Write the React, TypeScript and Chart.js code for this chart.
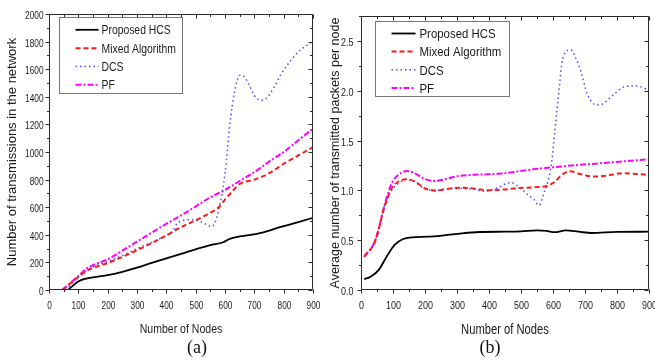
import React, { useEffect, useRef } from 'react';
import { Chart, registerables } from 'chart.js';
Chart.register(...registerables);

// ---------- (a) Number of transmissions ----------
const hcsXa = [65, 100, 150, 200, 250, 300, 350, 400, 450, 500, 550, 594, 616, 651, 719, 787, 850, 900];
const hcsYa = [0, 62, 92, 108, 132, 162, 196, 229, 262, 295, 325, 346, 371, 388, 412, 455, 492, 523];
const mixXa = [45, 100, 125, 150, 200, 250, 300, 350, 400, 450, 500, 550, 575, 600, 625, 650, 700, 750, 800, 850, 900];
const mixYa = [0, 95, 135, 160, 195, 240, 288, 340, 395, 455, 505, 560, 592, 655, 715, 768, 800, 845, 915, 975, 1036];
const dcsXa = [10, 50, 100, 150, 200, 250, 300, 350, 400, 420, 440, 485, 520, 555, 572, 583, 594, 605, 615, 625, 640, 652, 666, 680, 700, 722, 740, 767, 790, 818, 850, 884, 900];
const dcsYa = [0, 0, 100, 168, 205, 250, 300, 345, 395, 420, 490, 510, 492, 460, 528, 625, 746, 940, 1170, 1339, 1508, 1557, 1545, 1497, 1410, 1375, 1388, 1468, 1560, 1646, 1726, 1780, 1804];
const pfXa = [45, 100, 125, 150, 200, 250, 300, 350, 400, 450, 500, 550, 600, 650, 700, 750, 800, 850, 900];
const pfYa = [0, 100, 150, 180, 222, 285, 350, 415, 480, 540, 605, 672, 725, 790, 855, 930, 1000, 1085, 1170];

// ---------- (b) Average transmitted packets per node ----------
const hcsXb = [10, 30, 55, 80, 105, 130, 160, 210, 260, 315, 370, 450, 500, 550, 580, 605, 640, 680, 720, 800, 900];
const hcsYb = [0.11, 0.134, 0.2, 0.334, 0.452, 0.509, 0.529, 0.535, 0.549, 0.569, 0.582, 0.585, 0.588, 0.598, 0.593, 0.58, 0.598, 0.585, 0.572, 0.583, 0.585];
const mixXb = [10, 44, 75, 96, 117, 143, 169, 200, 237, 273, 315, 357, 398, 440, 486, 538, 580, 606, 627, 653, 684, 726, 767, 819, 861, 900];
const mixYb = [0.334, 0.49, 0.85, 1.02, 1.089, 1.111, 1.088, 1.02, 0.997, 1.017, 1.027, 1.017, 1.0, 1.007, 1.021, 1.031, 1.044, 1.087, 1.155, 1.192, 1.165, 1.138, 1.148, 1.172, 1.165, 1.155];
const dcsXb = [10, 44, 75, 96, 117, 143, 169, 200, 237, 273, 315, 357, 380, 430, 450, 471, 492, 518, 540, 556, 571, 588, 596, 606, 617, 627, 643, 656, 669, 688, 707, 736, 755, 788, 825, 861, 900];
const dcsYb = [0.334, 0.49, 0.86, 1.0, 1.07, 1.111, 1.085, 1.013, 1.0, 1.015, 1.02, 1.01, 0.99, 1.03, 1.064, 1.077, 1.037, 0.964, 0.91, 0.85, 0.967, 1.138, 1.288, 1.606, 1.941, 2.259, 2.403, 2.41, 2.342, 2.186, 1.968, 1.857, 1.867, 1.958, 2.041, 2.048, 2.005];
const pfXb = [10, 45, 75, 96, 117, 143, 169, 195, 226, 252, 294, 346, 398, 440, 538, 643, 747, 900];
const pfYb = [0.334, 0.502, 0.87, 1.071, 1.155, 1.195, 1.171, 1.121, 1.094, 1.104, 1.138, 1.155, 1.162, 1.17, 1.211, 1.245, 1.272, 1.312];

const seriesLabels = ['Proposed HCS', 'Mixed Algorithm', 'DCS', 'PF'];
const xTitle = 'Number of Nodes';
const yTitleA = 'Number of transmissions in the network';
const yTitleB = 'Average number of transmitted packets per node';

const SANS = "'Liberation Sans', Arial, sans-serif";

const styles = [
  { color: '#000000', dash: [] as number[], width: 1.8 },
  { color: '#ff1a1a', dash: [5, 3], width: 2 },
  { color: '#4b4bff', dash: [1.5, 3], width: 1.5 },
  { color: '#ff00ff', dash: [6, 2, 2, 2], width: 2 },
];

const pts = (xs: number[], ys: number[]) => xs.map((x, i) => ({ x, y: ys[i] }));

// condensed text (no narrow font installed): draw Liberation Sans squeezed horizontally
function text(ctx: any, s: string, x: number, y: number, size: number, sx: number, align: string) {
  ctx.save();
  ctx.translate(x, y);
  ctx.scale(sx, 1);
  ctx.font = `${size}px ${SANS}`;
  ctx.textAlign = align;
  ctx.textBaseline = 'alphabetic';
  ctx.fillStyle = '#1a1a1a';
  ctx.fillText(s, 0, 0);
  ctx.restore();
}

const frameLegendPlugin = {
  id: 'frameLegend',
  afterDatasetsDraw(chart: any, _args: any, opts: any) {
    const { ctx, chartArea: a } = chart;
    const xs = chart.scales.x;
    const ys = chart.scales.y;
    ctx.save();
    ctx.strokeStyle = '#2a2a2a';
    ctx.lineWidth = 1;
    ctx.setLineDash([]);
    const L = Math.round(a.left) + 0.5;
    const R = Math.round(a.right) - 0.5;
    const T = Math.round(a.top) + 0.5;
    const B = Math.round(a.bottom) - 0.5;
    ctx.beginPath();
    ctx.rect(L, T, R - L, B - T);
    const tf = opts.tickFont;
    xs.ticks.forEach((t: any) => {
      const px = Math.round(xs.getPixelForValue(t.value)) + 0.5;
      const major = Math.abs(t.value % opts.xMajor) < 1e-9;
      const len = major ? 4 : 2.5;
      ctx.moveTo(px, B);
      ctx.lineTo(px, B + len);
      ctx.moveTo(px, T);
      ctx.lineTo(px, T + len);
      if (major) text(ctx, String(t.value), px, opts.xLabelBase, tf.size, tf.sx, 'center');
    });
    ys.ticks.forEach((t: any) => {
      const py = Math.round(ys.getPixelForValue(t.value)) + 0.5;
      const r = t.value / opts.yMajor;
      const major = Math.abs(r - Math.round(r)) < 1e-6;
      const len = major ? 4 : 2.5;
      ctx.moveTo(L, py);
      ctx.lineTo(L - len, py);
      ctx.moveTo(R, py);
      ctx.lineTo(R - len, py);
      if (major) {
        const lab = Number(t.value).toFixed(opts.yDecimals);
        text(ctx, lab, L - opts.yLabelGap, py + tf.size * 0.36, tf.size, tf.sx, 'right');
      }
    });
    ctx.stroke();

    // x axis title
    const xt = opts.xTitle;
    text(ctx, xTitle, (a.left + a.right) / 2, xt.base, xt.size, xt.sx, 'center');

    // legend
    const lg = opts.legend;
    const bx = Math.round(a.left + lg.dx) + 0.5;
    const by = Math.round(a.top + lg.dy) + 0.5;
    ctx.fillStyle = '#ffffff';
    ctx.fillRect(bx, by, lg.w, lg.h);
    ctx.strokeStyle = '#777777';
    ctx.lineWidth = 1;
    ctx.strokeRect(bx, by, lg.w, lg.h);
    chart.data.datasets.forEach((ds: any, i: number) => {
      const y = by + lg.rows[i];
      ctx.save();
      ctx.strokeStyle = ds.borderColor;
      ctx.lineWidth = ds.borderWidth;
      ctx.setLineDash(ds.borderDash || []);
      ctx.beginPath();
      ctx.moveTo(bx + lg.s0, y);
      ctx.lineTo(bx + lg.s1, y);
      ctx.stroke();
      ctx.restore();
      text(ctx, ds.label, bx + lg.tx, y + lg.size * 0.36, lg.size, lg.sx, 'left');
    });
    ctx.restore();
  },
};

type PanelProps = {
  left: number;
  width: number;
  padTop: number;
  padRight: number;
  yWidth: number;
  yMax: number;
  yStep: number;
  yMajor: number;
  yTicksLimit: number;
  yTitle: string;
  yTitlePad: number;
  yTitleSize: number;
  deco: any;
  series: { xs: number[]; ys: number[] }[];
};

function Panel(p: PanelProps) {
  const ref = useRef<HTMLCanvasElement>(null);
  useEffect(() => {
    if (!ref.current) return;
    const datasets = p.series.map((s, i) => ({
      label: seriesLabels[i],
      data: pts(s.xs, s.ys),
      borderColor: styles[i].color,
      backgroundColor: styles[i].color,
      borderDash: styles[i].dash,
      borderWidth: styles[i].width,
      pointRadius: 0,
      fill: false,
      cubicInterpolationMode: 'monotone' as const,
    }));
    const chart = new Chart(ref.current, {
      type: 'line',
      data: { datasets },
      plugins: [frameLegendPlugin],
      options: {
        responsive: false,
        animation: false,
        devicePixelRatio: 1,
        layout: { padding: { left: 0, top: p.padTop, right: p.padRight, bottom: 0 } },
        plugins: {
          legend: { display: false },
          tooltip: { enabled: false },
          frameLegend: { xMajor: 100, yMajor: p.yMajor, ...p.deco },
        } as any,
        scales: {
          x: {
            type: 'linear',
            min: 0,
            max: 900,
            grid: { display: false, drawTicks: false },
            border: { display: false },
            ticks: { display: false, stepSize: 50, maxTicksLimit: 20, autoSkip: false },
            title: { display: false },
            afterFit: (s: any) => {
              s.height = 70;
            },
          },
          y: {
            type: 'linear',
            min: 0,
            max: p.yMax,
            grid: { display: false, drawTicks: false },
            border: { display: false },
            ticks: { display: false, stepSize: p.yStep, maxTicksLimit: p.yTicksLimit, autoSkip: false },
            title: {
              display: true,
              text: p.yTitle,
              color: '#1a1a1a',
              font: { family: SANS, size: p.yTitleSize },
              padding: { top: p.yTitlePad, bottom: 0 },
            },
            afterFit: (s: any) => {
              s.width = p.yWidth;
            },
          },
        },
      },
    });
    return () => chart.destroy();
  }, []);
  return (
    <canvas
      ref={ref}
      width={p.width}
      height={360}
      style={{ position: 'absolute', left: p.left, top: 0, width: p.width, height: 360 }}
    />
  );
}

const captionStyle: React.CSSProperties = {
  position: 'absolute',
  top: 337,
  width: 40,
  textAlign: 'center',
  fontFamily: "'Liberation Serif', 'Times New Roman', serif",
  fontSize: 18,
  lineHeight: '20px',
  color: '#111',
};

export default function App() {
  return (
    <div style={{ position: 'absolute', left: 0, top: 0, width: 655, height: 360, background: '#fff', overflow: 'hidden' }}>
      <Panel
        left={0}
        width={330}
        padTop={14}
        padRight={17}
        yWidth={49}
        yMax={2000}
        yStep={100}
        yMajor={200}
        yTicksLimit={21}
        yTitle={yTitleA}
        yTitlePad={5}
        yTitleSize={13}
        deco={{
          yDecimals: 0,
          tickFont: { size: 11.5, sx: 0.72 },
          xLabelBase: 309,
          yLabelGap: 6,
          xTitle: { base: 333, size: 13.5, sx: 0.78 },
          legend: { dx: 10, dy: 3, w: 123, h: 76, rows: [12.3, 30.7, 49, 67.3], s0: 16, s1: 39, tx: 42, size: 12.5, sx: 0.83 },
        }}
        series={[
          { xs: hcsXa, ys: hcsYa },
          { xs: mixXa, ys: mixYa },
          { xs: dcsXa, ys: dcsYa },
          { xs: pfXa, ys: pfYa },
        ]}
      />
      <Panel
        left={322}
        width={333}
        padTop={16}
        padRight={6}
        yWidth={39}
        yMax={2.75}
        yStep={0.25}
        yMajor={0.5}
        yTicksLimit={12}
        yTitle={yTitleB}
        yTitlePad={6}
        yTitleSize={12.5}
        deco={{
          yDecimals: 1,
          tickFont: { size: 11.5, sx: 0.78 },
          xLabelBase: 309,
          yLabelGap: 8,
          xTitle: { base: 334, size: 14, sx: 0.8 },
          legend: { dx: 14, dy: 5, w: 134, h: 75, rows: [12, 30, 48.3, 66.6], s0: 16, s1: 40, tx: 44, size: 13.5, sx: 0.845 },
        }}
        series={[
          { xs: hcsXb, ys: hcsYb },
          { xs: mixXb, ys: mixYb },
          { xs: dcsXb, ys: dcsYb },
          { xs: pfXb, ys: pfYb },
        ]}
      />
      <div style={{ ...captionStyle, left: 177 }}>(a)</div>
      <div style={{ ...captionStyle, left: 470 }}>(b)</div>
    </div>
  );
}
